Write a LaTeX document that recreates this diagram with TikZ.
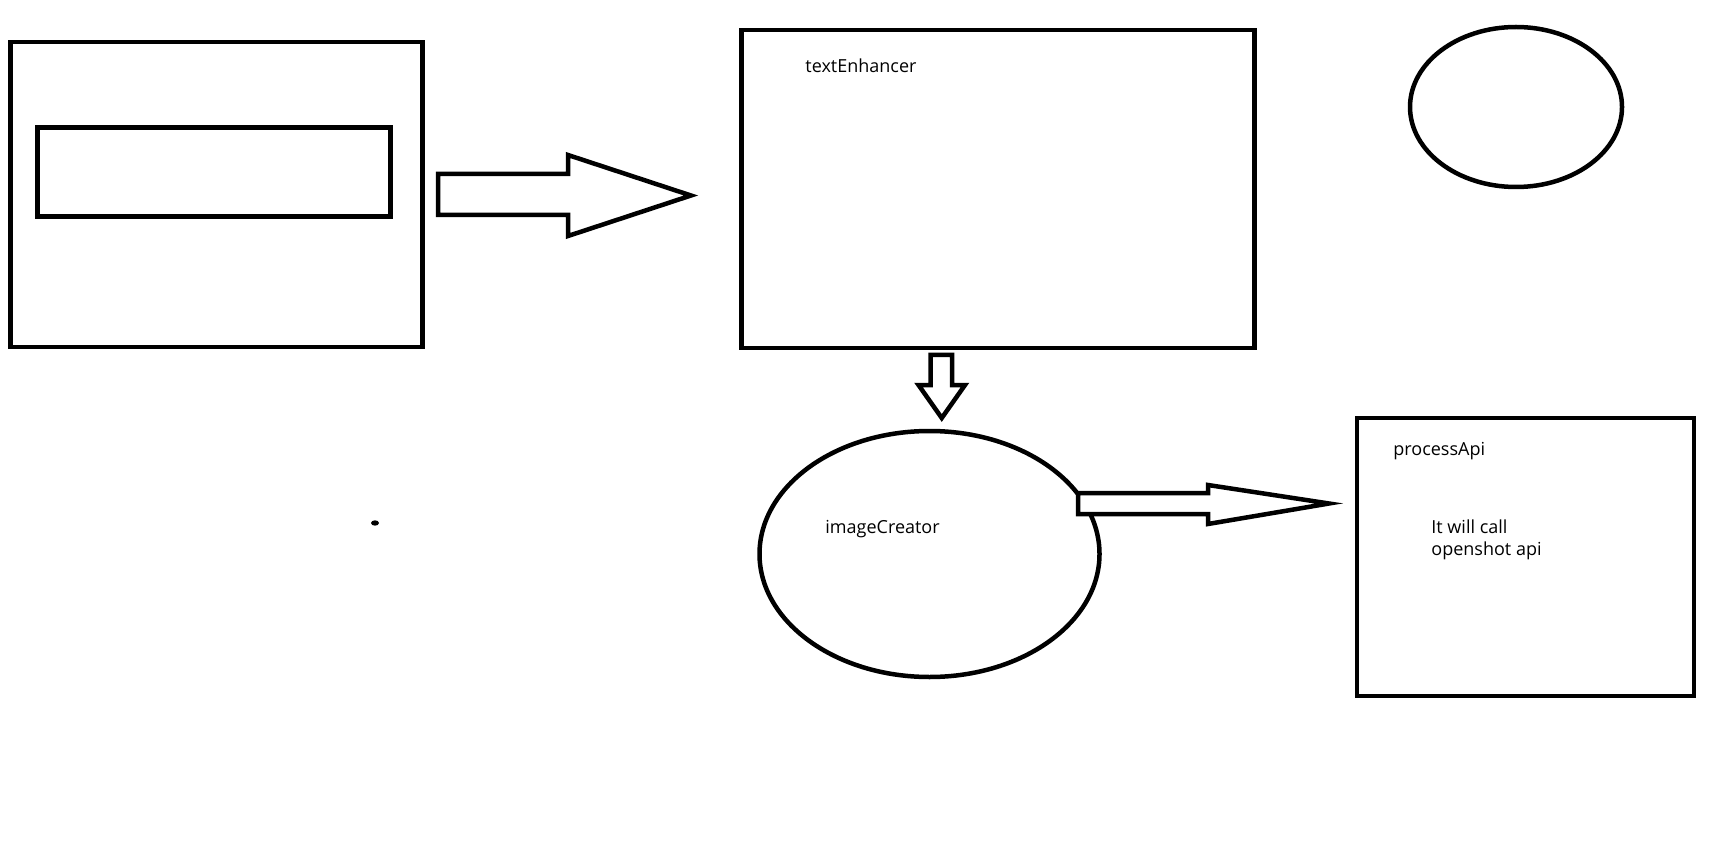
\documentclass[tikz,border=0pt]{standalone}
\usepackage{fontspec}
\setmainfont{Open Sans}
\usetikzlibrary{shapes.geometric}
\begin{document}
\begin{tikzpicture}[x=0.5pt,y=-0.5pt,
  stroke/.style={line width=2.25pt, draw=black, line join=miter},
  box/.style={stroke, rectangle, inner sep=0pt, outer sep=0pt},
  oval/.style={stroke, ellipse, inner sep=0pt, outer sep=0pt},
  label/.style={anchor=base west, inner sep=0pt, font=\fontsize{9}{11}\selectfont},
  blockarrow/.style={stroke, fill=white}]
\useasboundingbox (0,0) rectangle (1733,855);

% left panel with its inner field
\node[box, minimum width=206pt, minimum height=152.5pt] (panel) at (216.4,194.3) {};
\node[box, minimum width=176.5pt, minimum height=44.5pt] (field) at (214,172) {};

% text enhancer stage
\node[box, minimum width=256.5pt, minimum height=159pt] (enhancer) at (998,189) {};
\node[label] (enhancerlbl) at (805,73) {textEnhancer};

% empty oval at the top right
\node[oval, minimum width=106pt, minimum height=80pt] (blank) at (1516,107) {};

% image creator stage
\node[oval, minimum width=170pt, minimum height=123pt] (creator) at (929.5,554) {};
\node[label] (creatorlbl) at (825,533) {imageCreator};

% process api stage
\node[box, minimum width=168.5pt, minimum height=139pt] (process) at (1525.5,557) {};
\node[label] (processlbl) at (1393,455) {processApi};
\node[label] (notelbl) at (1431,533) {It will call};
\node[label] (notelbl2) at (1431,555) {openshot api};

% stray dot
\fill (375,523) ellipse [x radius=4, y radius=2.7];

% block arrow: panel -> enhancer
\draw[blockarrow] (438,174) -- (568,174) -- (568,155) -- (691,195.5)
  -- (568,236) -- (568,215) -- (438,215) -- cycle;

% block arrow: enhancer -> creator
\draw[blockarrow] (930.5,355) -- (952,355) -- (952,385) -- (965,385)
  -- (941.75,418) -- (918.5,385) -- (930.5,385) -- cycle;

% block arrow: creator -> process
\draw[blockarrow] (1078,493) -- (1208,493) -- (1208,485) -- (1329,503.5)
  -- (1208,524) -- (1208,514) -- (1078,514) -- cycle;
\end{tikzpicture}
\end{document}
